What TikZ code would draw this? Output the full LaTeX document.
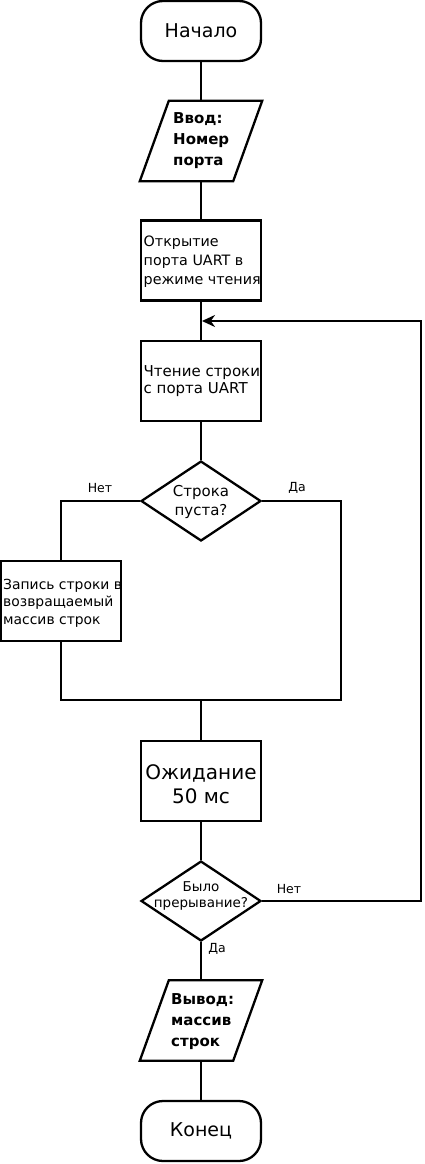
\documentclass[tikz,border=0pt]{standalone}
\usepackage{fontspec}
\setmainfont{DejaVu Sans}
\usetikzlibrary{shapes.geometric,arrows.meta}
\begin{document}
\begin{tikzpicture}[x=1pt,y=-1pt,
  conn/.style={line width=2.3pt},
  shp/.style={draw,line width=2.3pt,inner sep=0pt},
  term/.style={shp,rectangle,rounded corners=22pt,minimum width=120pt,minimum height=60pt,font=\fontsize{19}{22}\selectfont},
  proc/.style={shp,rectangle,minimum width=120pt,minimum height=80pt},
  ghost/.style={inner sep=0pt,minimum width=93pt,minimum height=80pt},
  dec/.style={shp,diamond,minimum width=120pt,minimum height=80pt,aspect=1.5},
  txt/.style={inner sep=0pt,align=left,anchor=west},
  ctxt/.style={inner sep=0pt,align=center},
  iotxt/.style={txt,font=\bfseries\fontsize{15}{21}\selectfont},
  lbl/.style={inner sep=0pt,font=\fontsize{12.5}{14}\selectfont}
]
\useasboundingbox (0,0) rectangle (424,1164);

\node[term] (start) at (201,31) {Начало};

\node[ghost] (in) at (201,141) {};
\draw[shp] ([xshift=14.5pt]in.north west) -- ([xshift=14.5pt]in.north east)
  -- ([xshift=-14.5pt]in.south east) -- ([xshift=-14.5pt]in.south west) -- cycle;
\node[iotxt] (intx) at (173,141) {Ввод:\\Номер\\порта};

\node[proc] (open) at (201,260.5) {};
\node[txt,font=\fontsize{14.3}{19}\selectfont] (opentx) at (143.5,262) {Открытие\\порта UART в\\режиме чтения};

\node[proc] (read) at (201,381) {};
\node[txt,font=\fontsize{15}{17}\selectfont] (readtx) at (143.5,381) {Чтение строки\\с порта UART};

\node[dec] (empty) at (201,501) {};
\node[ctxt,font=\fontsize{15}{19}\selectfont] (emptytx) at (201,502) {Строка\\пуста?};

\node[proc] (write) at (61,601) {};
\node[txt,font=\fontsize{13.9}{17.5}\selectfont] (writetx) at (3,603) {Запись строки в\\возвращаемый\\массив строк};

\coordinate (jl) at (61,700);
\coordinate (jr) at (341,700);
\coordinate (jm) at (201,700);

\node[proc] (wait) at (201,781) {};
\node[ctxt,font=\fontsize{20}{24}\selectfont] (waittx) at (201,784) {Ожидание\\50 мс};

\node[dec] (intr) at (201,901) {};
\node[ctxt,font=\fontsize{13.5}{16}\selectfont] (intrtx) at (201,896) {Было\\прерывание?};

\node[ghost] (out) at (201,1020.5) {};
\draw[shp] ([xshift=14.5pt]out.north west) -- ([xshift=14.5pt]out.north east)
  -- ([xshift=-14.5pt]out.south east) -- ([xshift=-14.5pt]out.south west) -- cycle;
\node[iotxt] (outtx) at (171,1022) {Вывод:\\массив\\строк};

\node[term] (end) at (201,1131) {Конец};

\coordinate (lc) at (421,321);
\coordinate (ar) at (202,321);

\draw[conn] (start.south) -- (in.north);
\draw[conn] (in.south) -- (open.north);
\draw[conn] (open.south) -- (read.north);
\draw[conn] (read.south) -- (empty.north);
\draw[conn] (empty.west) -| (write.north);
\draw[conn] (write.south) -- (jl) -- (jr) |- (empty.east);
\draw[conn] (jm) -- (wait.north);
\draw[conn] (wait.south) -- (intr.north);
\draw[conn] (intr.south) -- (out.north);
\draw[conn] (out.south) -- (end.north);
\draw[conn,-{Stealth[length=13pt,width=12pt]}] (intr.east) -| (lc) -- (ar);

\node[lbl] (l1) at (100,488) {Нет};
\node[lbl] (l2) at (297,488) {Да};
\node[lbl] (l3) at (289,889) {Нет};
\node[lbl] (l4) at (217,949) {Да};
\end{tikzpicture}
\end{document}
